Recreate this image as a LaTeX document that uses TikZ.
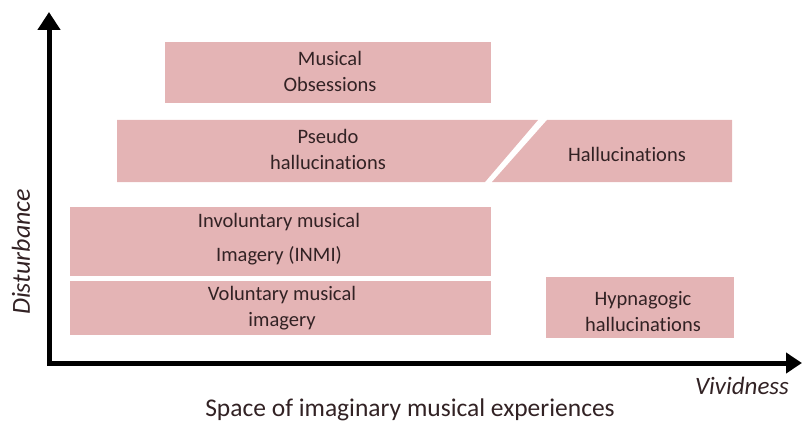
\documentclass[tikz,border=0pt]{standalone}
\usepackage{fontspec}
\setmainfont{Carlito}[Ligatures=NoCommon]
\usetikzlibrary{arrows.meta}
\definecolor{boxfill}{RGB}{228,180,181}
\definecolor{boxtext}{RGB}{50,34,36}
\tikzset{
  lbl/.style={text=boxtext, align=center, font=\fontsize{20.5}{26}\selectfont},
  axis/.style={line width=5pt, {Triangle[length=18pt,width=22pt]}-{Triangle[length=16pt,width=20pt]}, line join=miter},
}
\begin{document}
\begin{tikzpicture}[x=1pt,y=-1pt]
\useasboundingbox (0,0) rectangle (803,425);
% boxes
\fill[boxfill] (165,42) rectangle (491,103);
\node[lbl] (mo) at (330,71) {Musical\\Obsessions};
\fill[boxfill] (117,120) -- (538,120) -- (485,182) -- (117,182) -- cycle;
\node[lbl] (ph) at (328,149) {Pseudo\\hallucinations};
\fill[boxfill] (547,120) -- (732,120) -- (732,182) -- (492,182) -- cycle;
\node[lbl] (hal) at (627,154) {Hallucinations};
\fill[boxfill] (70,207) rectangle (491,276);
\node[lbl, font=\fontsize{20.5}{34}\selectfont] (inmi) at (279,239) {Involuntary musical\\Imagery (INMI)};
\fill[boxfill] (70,281) rectangle (491,335);
\node[lbl] (vmi) at (282,308) {Voluntary musical\\imagery};
\fill[boxfill] (546,277) rectangle (734,338);
\node[lbl] (hyp) at (643,312) {Hypnagogic\\hallucinations};
% axes
\coordinate (ytop) at (49,12);
\coordinate (origin) at (49,363);
\coordinate (xend) at (802,363);
\draw[axis] (ytop) -- (origin) -- (xend);
\node[text=boxtext, font=\fontsize{26}{30}\selectfont\itshape, rotate=90] (dist) at (21,252) {Disturbance};
\node[text=boxtext, font=\fontsize{25}{30}\selectfont\itshape] (viv) at (742,386) {Vividness};
\node[text=boxtext, font=\fontsize{25.5}{30}\selectfont] (space) at (410,410) {Space of imaginary musical experiences};
\end{tikzpicture}
\end{document}
